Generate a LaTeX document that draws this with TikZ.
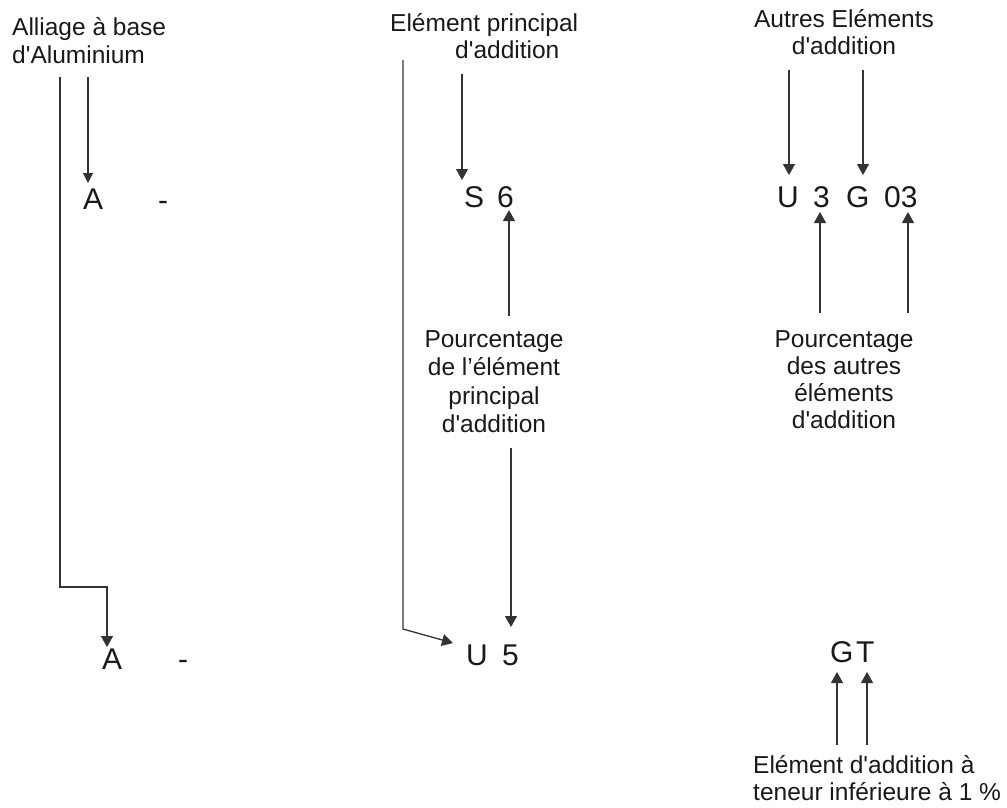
\documentclass[tikz,border=0pt]{standalone}
\usepackage{fontspec}
\setmainfont{Liberation Sans}[Ligatures=TeXOff]
\usetikzlibrary{arrows.meta}
\begin{document}
\begin{tikzpicture}[x=1pt,y=-1pt,
  lbl/.style={inner sep=0pt,text=black!90,font=\fontsize{24.5}{28}\selectfont},
  code/.style={inner sep=0pt,anchor=base west,text=black!90,font=\fontsize{30}{34}\selectfont},
  conn/.style={draw=black!80,line width=1.3pt},
  arr/.style={conn,-{Triangle[length=11pt,width=12pt]}}]
\useasboundingbox (0,0) rectangle (1007,807);

% labels (base anchor of a multi-line node = baseline of its last line)
\node[lbl,anchor=base west,align=left] (tAl) at (12,63) {Alliage à base\\d'Aluminium};
\node[lbl,anchor=base west] (tEl1) at (390,31) {Elément principal};
\node[lbl,anchor=base west] (tEl2) at (455,58) {d'addition};
\node[lbl,anchor=base,align=center,font=\fontsize{24.5}{27}\selectfont] (tAu) at (844,54) {Autres Eléments\\d'addition};
\node[lbl,anchor=base,align=center,font=\fontsize{24.5}{28.5}\selectfont] (tP1) at (494,432.5) {Pourcentage\\de l’élément\\principal\\d'addition};
\node[lbl,anchor=base,align=center,font=\fontsize{24.5}{27}\selectfont] (tP2) at (844,428) {Pourcentage\\des autres\\éléments\\d'addition};
\node[lbl,anchor=base west,align=left,font=\fontsize{24.5}{27}\selectfont] (tLow) at (753,800) {Elément d'addition à\\teneur inférieure à 1 \%};

% codes
\node[code] (A1) at (83,209) {A};
\node[code] (d1) at (158,210) {-};
\node[code] (S) at (464,207) {S};
\node[code] (six) at (497,207) {6};
\node[code] (U1) at (777,207) {U};
\node[code] (three) at (813,207) {3};
\node[code] (G1) at (846,207) {G};
\node[code] (zt) at (884,207) {03};
\node[code] (A2) at (102,669) {A};
\node[code] (d2) at (178,669) {-};
\node[code] (U2) at (466,665) {U};
\node[code] (five) at (502,665) {5};
\node[code] (G2) at (830,662) {G};
\node[code] (T) at (856,662) {T};

% connector end points
\coordinate (a0) at (60,77);
\coordinate (a1) at (60,587);
\coordinate (a2) at (107,587);
\coordinate (a3) at (107,647);
\coordinate (b0) at (88,77);
\coordinate (b1) at (88,183);
\coordinate (c0) at (403,60);
\coordinate (c1) at (403,629);
\coordinate (c2) at (453,643);
\coordinate (e0) at (462,74);
\coordinate (e1) at (462,180);
\coordinate (f0) at (509,316);
\coordinate (f1) at (509,210);
\coordinate (g0) at (511,448);
\coordinate (g1) at (511,627);
\coordinate (h0) at (789,70);
\coordinate (h1) at (789,175);
\coordinate (i0) at (863,70);
\coordinate (i1) at (863,175);
\coordinate (j0) at (820,313);
\coordinate (j1) at (820,212);
\coordinate (k0) at (908,313);
\coordinate (k1) at (908,212);
\coordinate (m0) at (837,745);
\coordinate (m1) at (837,672);
\coordinate (n0) at (867,745);
\coordinate (n1) at (867,672);

% connectors
\draw[arr] (a0) -- (a1) -- (a2) -- (a3);
\draw[arr,-{Triangle[length=10pt,width=10pt]}] (b0) -- (b1);
\draw[arr] (c0) -- (c1) -- (c2);
\draw[arr] (e0) -- (e1);
\draw[arr] (f0) -- (f1);
\draw[arr] (g0) -- (g1);
\draw[arr] (h0) -- (h1);
\draw[arr] (i0) -- (i1);
\draw[arr] (j0) -- (j1);
\draw[arr] (k0) -- (k1);
\draw[arr] (m0) -- (m1);
\draw[arr] (n0) -- (n1);
\end{tikzpicture}
\end{document}
